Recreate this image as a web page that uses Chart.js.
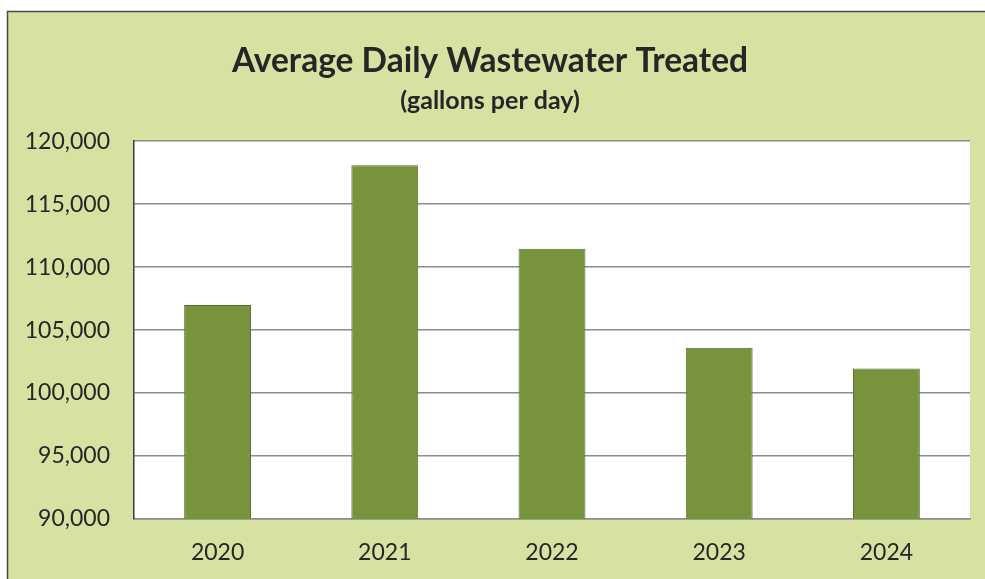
<!DOCTYPE html>
<html>
<head>
<meta charset="utf-8">
<script src="https://cdn.jsdelivr.net/npm/chart.js@4/dist/chart.umd.min.js"></script>
<style>
  html, body { margin: 0; padding: 0; background: #ffffff; }
  #wrap { width: 985px; height: 579px; position: relative; }
</style>
</head>
<body>
<div id="wrap"><canvas id="c" width="985" height="579"></canvas></div>
<script>
// Average daily wastewater treated, gallons per day
const years = ['2020', '2021', '2022', '2023', '2024'];
const gallonsPerDay = [107000, 118100, 111450, 103600, 101950];
const yTicks = [90000, 95000, 100000, 105000, 110000, 115000, 120000];

const FONT = 'Lato, "Liberation Sans", sans-serif';
const TEXT = '#262626';

// Panel background with a thin dark frame on the left and top
const panelBackground = {
  id: 'panelBackground',
  beforeDraw(chart) {
    const ctx = chart.ctx;
    ctx.save();
    ctx.fillStyle = '#ffffff';
    ctx.fillRect(0, 0, chart.width, chart.height);
    ctx.fillStyle = '#d6e2a2';
    ctx.fillRect(7, 11, chart.width - 7, chart.height - 11);
    ctx.strokeStyle = '#4a4a4a';
    ctx.lineWidth = 1.5;
    ctx.beginPath();
    ctx.moveTo(7.5, chart.height);
    ctx.lineTo(7.5, 11.5);
    ctx.lineTo(chart.width, 11.5);
    ctx.stroke();
    // white plot area
    const a = chart.chartArea;
    ctx.fillStyle = '#ffffff';
    ctx.fillRect(a.left, a.top, a.right - a.left, a.bottom - a.top);
    ctx.restore();
  }
};

new Chart(document.getElementById('c'), {
  type: 'bar',
  data: {
    labels: years,
    datasets: [{
      data: gallonsPerDay,
      backgroundColor: '#77933c',
      borderColor: '#56702a',
      borderWidth: 1,
      barPercentage: 0.4,
      categoryPercentage: 1.0
    }]
  },
  options: {
    responsive: false,
    animation: false,
    devicePixelRatio: 1,
    layout: { padding: { top: 20, right: 15, bottom: 14, left: 10 } },
    plugins: {
      legend: { display: false },
      tooltip: { enabled: false },
      title: {
        display: true,
        text: 'Average Daily Wastewater Treated',
        color: TEXT,
        font: { family: FONT, size: 33.5, weight: 'bold', lineHeight: 1.2 },
        padding: { top: 21, bottom: 0 }
      },
      subtitle: {
        display: true,
        text: '(gallons per day)',
        color: TEXT,
        font: { family: FONT, size: 25, weight: 'bold', lineHeight: 1.2 },
        padding: { top: 5, bottom: 25 }
      }
    },
    scales: {
      x: {
        afterFit(scale) { scale.height = 46; },
        grid: { display: false, drawTicks: false },
        border: { display: true, color: '#8c8c8c', width: 1.5 },
        ticks: { color: TEXT, font: { family: FONT, size: 23 }, padding: 20 }
      },
      y: {
        min: 90000,
        max: 120000,
        afterFit(scale) { scale.width = 124; },
        afterBuildTicks(scale) { scale.ticks = yTicks.map(v => ({ value: v })); },
        grid: { color: '#8c8c8c', lineWidth: 1.5, drawTicks: false },
        border: { display: true, color: '#3a3a3a', width: 1.5 },
        ticks: {
          color: TEXT,
          font: { family: FONT, size: 23 },
          padding: 24,
          callback: v => v.toLocaleString('en-US')
        }
      }
    }
  },
  plugins: [panelBackground]
});
</script>
</body>
</html>
